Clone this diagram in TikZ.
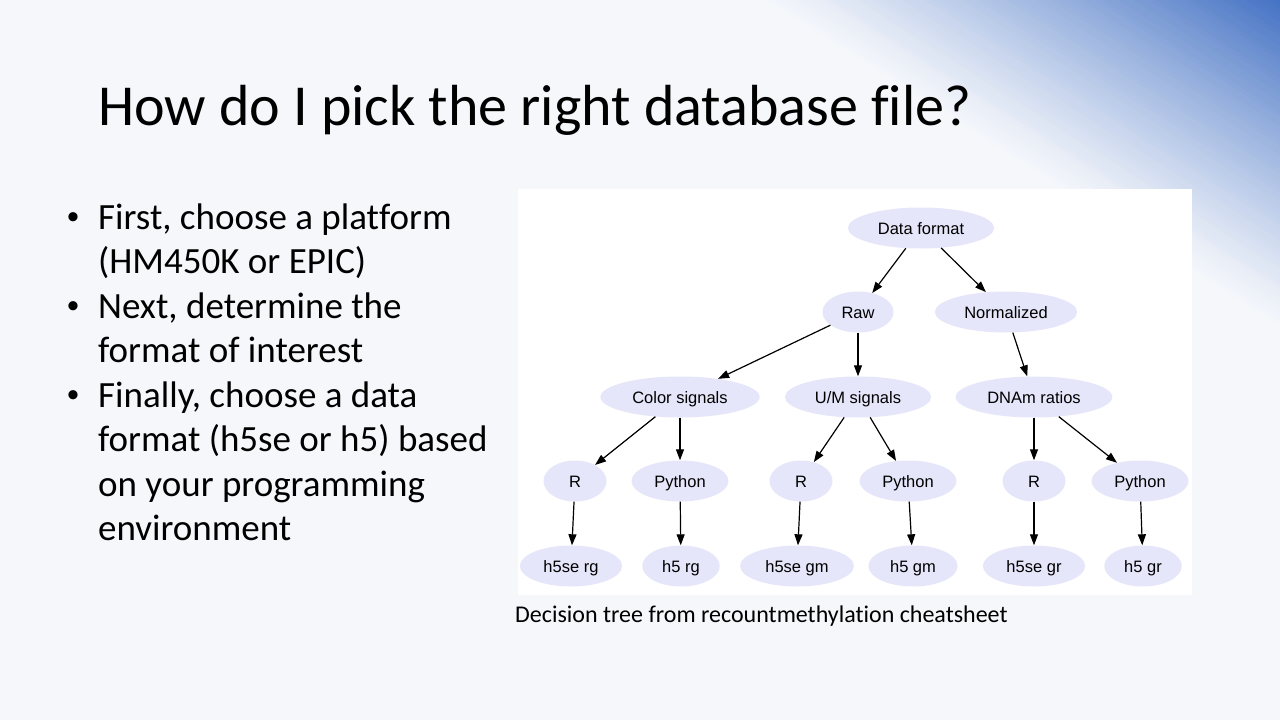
\documentclass[tikz,border=0pt]{standalone}
\usepackage{fontspec}
\setmainfont{Carlito}[Ligatures={NoCommon,NoContextual}]
\newfontfamily\treefont{Liberation Sans}
\usetikzlibrary{shapes.geometric,arrows.meta}
\definecolor{slidebg}{HTML}{F5F7FB}
\definecolor{slideblue}{HTML}{4472C4}
\definecolor{nodefill}{HTML}{E6E6FA}
\begin{document}
\begin{tikzpicture}[x=1pt, y=-1pt,
    every node/.style={inner sep=0pt},
    tnode/.style={ellipse, fill=nodefill, font=\treefont\fontsize{16.5}{19}\selectfont,
        minimum width=63pt, minimum height=41pt, inner xsep=8.6pt, inner ysep=0pt,
        text height=13.5pt, text depth=1.5pt},
    tedge/.style={-{Triangle[length=11pt,width=8pt]}, line width=1.2pt, black},
    bodytext/.style={anchor=base west, font=\fontsize{37}{44}\selectfont},
    bulletmark/.style={anchor=center, font=\fontsize{26}{30}\selectfont}]
    \useasboundingbox (0,0) rectangle (1280,720);

    % Fundo do slide
    \fill[slidebg] (0,0) rectangle (1280,720);
    \begin{scope}
        \clip (0,0) rectangle (1280,720);
        \foreach \i in {0,...,69} {
            \pgfmathsetmacro\ta{4*\i}
            \pgfmathsetmacro\tb{4*\i+4.6}
            \pgfmathtruncatemacro\pc{min(100,100*((4*\i+2)/278)^1.15)}
            \fill[slideblue!\pc!slidebg]
                ({760+\ta*0.5357-900*0.8442},{-\ta*0.8442-900*0.5357}) --
                ({760+\ta*0.5357+900*0.8442},{-\ta*0.8442+900*0.5357}) --
                ({760+\tb*0.5357+900*0.8442},{-\tb*0.8442+900*0.5357}) --
                ({760+\tb*0.5357-900*0.8442},{-\tb*0.8442-900*0.5357}) -- cycle;
        }
    \end{scope}

    % Titulo
    \node[anchor=base west, font=\fontsize{58}{66}\selectfont] (title) at (98,125)
        {How do I pick the right database file?};

    % Lista
    \foreach \txt [count=\k] in {{First, choose a platform}, {(HM450K or EPIC)},
            {Next, determine the}, {format of interest}, {Finally, choose a data},
            {format (h5se or h5) based}, {on your programming}, {environment}}
        \node[bodytext] (line\k) at (98,{229+44.5*(\k-1)}) {\txt};
    \foreach \k in {1,3,5}
        \node[bulletmark] (dot\k) at (73,{219+44.5*(\k-1)}) {•};

    % Arvore de decisao
    \fill[white] (518,189) rectangle (1192,595);

    \node[tnode] (dataformat) at (921,228) {Data format};
    \node[tnode] (raw) at (858,312) {Raw};
    \node[tnode] (normalized) at (1006,312) {Normalized};
    \node[tnode] (colorsig) at (680,397) {Color signals};
    \node[tnode] (umsig) at (858,397) {U/M signals};
    \node[tnode] (dnam) at (1034,397) {DNAm ratios};
    \node[tnode] (rA) at (575,481) {R};
    \node[tnode] (pyA) at (680,481) {Python};
    \node[tnode] (rB) at (801,481) {R};
    \node[tnode] (pyB) at (908,481) {Python};
    \node[tnode] (rC) at (1034,481) {R};
    \node[tnode] (pyC) at (1140,481) {Python};
    \node[tnode] (h5serg) at (571,566) {h5se rg};
    \node[tnode] (h5rg) at (681,566) {h5 rg};
    \node[tnode] (h5segm) at (797,566) {h5se gm};
    \node[tnode] (h5gm) at (913,566) {h5 gm};
    \node[tnode] (h5segr) at (1034,566) {h5se gr};
    \node[tnode] (h5gr) at (1143,566) {h5 gr};

    \draw[tedge] (dataformat) -- (raw);
    \draw[tedge] (dataformat) -- (normalized);
    \draw[tedge] (raw) -- (colorsig);
    \draw[tedge] (raw) -- (umsig);
    \draw[tedge] (normalized) -- (dnam);
    \draw[tedge] (colorsig) -- (rA);
    \draw[tedge] (colorsig) -- (pyA);
    \draw[tedge] (umsig) -- (rB);
    \draw[tedge] (umsig) -- (pyB);
    \draw[tedge] (dnam) -- (rC);
    \draw[tedge] (dnam) -- (pyC);
    \draw[tedge] (rA) -- (h5serg);
    \draw[tedge] (pyA) -- (h5rg);
    \draw[tedge] (rB) -- (h5segm);
    \draw[tedge] (pyB) -- (h5gm);
    \draw[tedge] (rC) -- (h5segr);
    \draw[tedge] (pyC) -- (h5gr);

    % Legenda
    \node[anchor=base west, font=\fontsize{24}{28}\selectfont] (caption) at (515,622)
        {Decision tree from recountmethylation cheatsheet};
\end{tikzpicture}
\end{document}
